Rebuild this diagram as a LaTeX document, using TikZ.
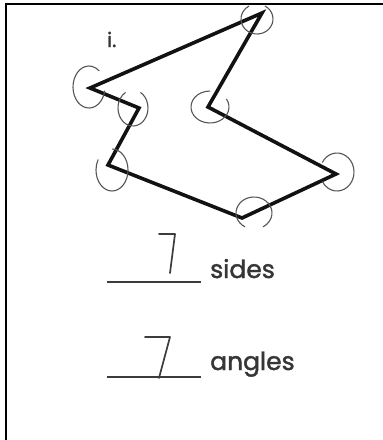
\documentclass[tikz,border=0pt]{standalone}
\usepackage{fontspec}
\setmainfont{Poppins}[FakeBold=1.6]
\usetikzlibrary{positioning}
\definecolor{ink}{RGB}{18,18,18}
\definecolor{pencil}{RGB}{85,85,85}
\definecolor{graphite}{RGB}{60,60,60}
\tikzset{
  frame/.style={draw=black,line width=2.2pt},
  side/.style={draw=ink,line width=3.6pt,line join=miter},
  anglemark/.style={draw=pencil,line width=1.1pt},
  blank/.style={draw=graphite,line width=1.5pt},
  hand/.style={draw=graphite,line width=1.7pt,line cap=round,line join=round},
  word/.style={font=\fontsize{25}{25}\selectfont,text=ink!85,inner sep=0pt,anchor=base west}
}
% center x, center y, x radius, y radius, start, end
\newcommand{\AngleMark}[6]{%
  \draw[anglemark] (#1,#2) ++(#5:#3 and #4) arc[start angle=#5,end angle=#6,x radius=#3,y radius=#4];
}

\begin{document}
\begin{tikzpicture}[x=1pt,y=-1pt]
  \useasboundingbox (0,0) rectangle (383,440);

  % Page edge
  \draw[frame] (6,441) -- (6,4) -- (384,4);

  \node[word,font=\fontsize{20}{20}\selectfont] (label) at (107,47) {i.};

  % Corners of the shape
  \coordinate (top) at (262,13);
  \coordinate (left) at (90,88);
  \coordinate (notch) at (139,108);
  \coordinate (low) at (108,165);
  \coordinate (bottom) at (242,218);
  \coordinate (right) at (336,174);
  \coordinate (inner) at (208,107);

  \draw[side] (top) -- (left) -- (notch) -- (low) -- (bottom) -- (right) -- (inner) -- cycle;

  % Angle marks
  \AngleMark{257}{19}{16}{15}{300}{600}
  \AngleMark{89}{87}{16}{21}{10}{310}
  \AngleMark{133}{108}{15}{18}{300}{600}
  \AngleMark{112}{170}{16}{21}{270}{570}
  \AngleMark{210}{107}{19}{16}{330}{630}
  \AngleMark{337}{172}{17}{19}{210}{510}
  \AngleMark{254}{213}{18}{16}{120}{420}

  % Answers
  \draw[blank] (107,282) -- (201,282);
  \draw[hand] (159,234) -- (175,234) -- (170,273);
  \node[word] (sides) at (210,278) {sides};

  \draw[blank] (107,377) -- (201,377);
  \draw[hand] (145,337) -- (170,337) -- (159,378);
  \node[word] (angles) at (210,370) {angles};
\end{tikzpicture}
\end{document}
